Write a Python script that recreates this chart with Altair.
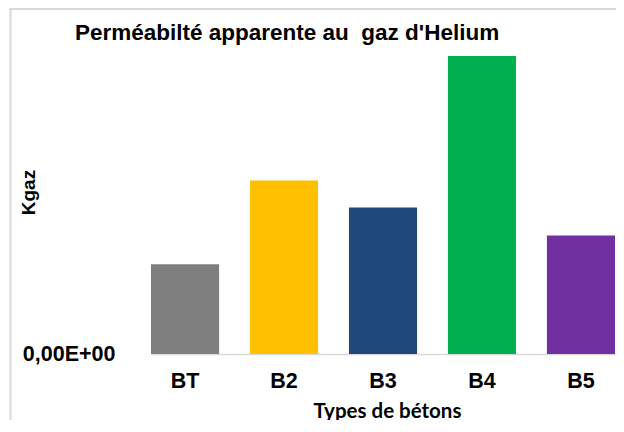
import altair as alt
import pandas as pd

categories = ["BT", "B2", "B3", "B4", "B5"]
kgaz_values = [0.90e-16, 1.74e-16, 1.47e-16, 2.99e-16, 1.19e-16]
bar_colors = ["#7f7f7f", "#ffc000", "#1f497d", "#00b050", "#7030a0"]
y_tick_values = [0]
y_tick_labels = ["0,00E+00"]

title_text = "Perméabilté apparente au\u00a0 gaz d'Helium"
x_title = "Types de bétons"
y_title = "Kgaz"

df = pd.DataFrame({"type": categories, "kgaz": kgaz_values})

label_expr = " : ".join(
    [f"datum.value == {v} ? '{l}'" for v, l in zip(y_tick_values, y_tick_labels)] + ["''"]
)

PLOT_W = 481
PLOT_H = 299

bars = alt.Chart(df).mark_bar().encode(
    x=alt.X(
        "type:N",
        sort=categories,
        scale=alt.Scale(range=[16, 480], paddingInner=0.312, paddingOuter=0),
        axis=alt.Axis(
            title=x_title,
            titleFont="Lato",
            titleFontSize=20.5,
            titleFontWeight="bold",
            titleColor="#000000",
            titleX=252,
            titleY=47,
            titleAlign="center",
            titleBaseline="top",
            labelFont="Liberation Sans",
            labelFontSize=21.5,
            labelFontWeight="bold",
            labelColor="#000000",
            labelAngle=0,
            labelPadding=16,
            ticks=False,
            domainColor="#d9d9d9",
            domainWidth=1.5,
        ),
    ),
    y=alt.Y(
        "kgaz:Q",
        scale=alt.Scale(domain=[0, 3.0e-16], nice=False),
        axis=alt.Axis(
            title=y_title,
            titleFont="Liberation Sans",
            titleFontSize=19,
            titleFontWeight="bold",
            titleColor="#000000",
            titleAngle=-90,
            titleX=-101,
            titleY=137,
            titleAlign="center",
            titleBaseline="alphabetic",
            values=y_tick_values,
            labelExpr=label_expr,
            labelFont="Liberation Sans",
            labelFontSize=21.5,
            labelFontWeight="bold",
            labelColor="#000000",
            labelPadding=20,
            labelBaseline="middle",
            ticks=False,
            domain=False,
            grid=False,
        ),
    ),
    color=alt.Color("type:N", scale=alt.Scale(domain=categories, range=bar_colors), legend=None),
)

frame_df = pd.DataFrame({"k": [0]})
left_border = alt.Chart(frame_df).mark_rule(color="#d9d9d9", strokeWidth=2).encode(
    x=alt.value(-124.5), y=alt.value(-46.5), y2=alt.value(366)
)
top_border = alt.Chart(frame_df).mark_rule(color="#d9d9d9", strokeWidth=2).encode(
    x=alt.value(-125.5), x2=alt.value(PLOT_W), y=alt.value(-46)
)

chart = alt.layer(left_border, top_border, bars).properties(
    width=PLOT_W,
    height=PLOT_H,
    padding={"left": 127, "top": 47, "right": 0, "bottom": 66},
    autosize=alt.AutoSizeParams(type="none"),
    background="#ffffff",
    title=alt.TitleParams(
        title_text,
        anchor="start",
        frame="group",
        font="Liberation Sans",
        fontSize=22.5,
        fontWeight="bold",
        color="#000000",
        dx=-60,
        dy=41,
    ),
).configure_view(stroke=None)

chart.save("out.html", embed_options={"renderer": "svg", "actions": False})
